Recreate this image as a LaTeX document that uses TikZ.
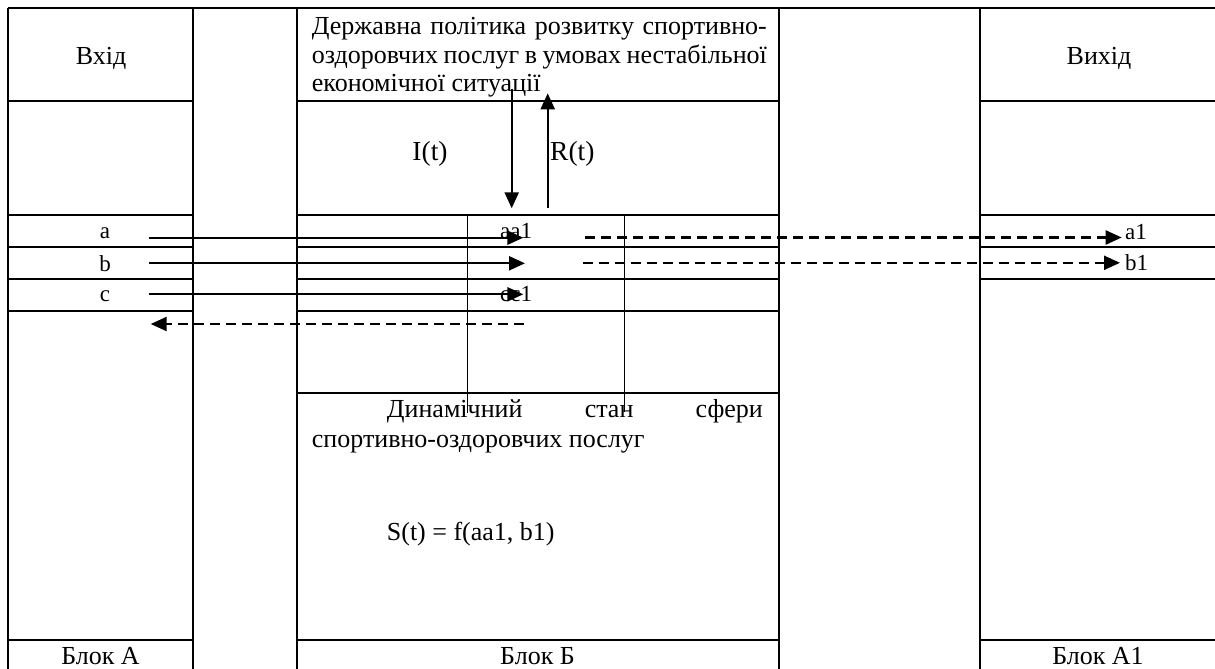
\documentclass[tikz,border=0pt]{standalone}
\usepackage{fontspec}
\setmainfont{Liberation Serif}
\usetikzlibrary{arrows.meta}

\begin{document}
\begin{tikzpicture}[x=1pt,y=-1pt,
  grid/.style={line width=2.3pt},
  thingrid/.style={line width=1.5pt},
  flow/.style={line width=2.2pt,-{Triangle[length=16pt,width=14pt]}},
  dflow/.style={flow,dash pattern=on 10pt off 6pt},
  lbl/.style={inner sep=0pt,anchor=base,font=\fontsize{26}{28.5}\selectfont},
  biglbl/.style={lbl,font=\fontsize{27.5}{30}\selectfont},
  smalllbl/.style={lbl,font=\fontsize{23}{26}\selectfont},
  para/.style={lbl,anchor=base west,align=justify},
]
\useasboundingbox (0,0) rectangle (1215,669);
\clip (0,0) rectangle (1215,669);

% table frame: five columns
\foreach \x in {8,193,297,779,980,1217}
  \draw[grid] (\x,8) -- (\x,672);
\draw[grid] (8,8) -- (1217,8);
\draw[grid] (8,672) -- (1217,672);

% row lines of block A
\foreach \y in {101,215,247,279,311,640}
  \draw[grid] (8,\y) -- (193,\y);
% row lines of block B
\foreach \y in {101,215,247,279,311,393,640}
  \draw[grid] (297,\y) -- (779,\y);
% row lines of block A1
\foreach \y in {101,215,247,279,640}
  \draw[grid] (980,\y) -- (1217,\y);

% inner dividers of block B
\draw[thingrid] (467.7,215) -- (467.7,413);
\draw[thingrid] (624.3,215) -- (624.3,412);

% headings
\node[lbl] (vhid) at (101,65) {Вхід};
\node[lbl] (vyhid) at (1099,65) {Вихід};
\node[para,text width=455pt] (policy) at (311.7,35)
  {Державна політика розвитку спортивно-\linebreak
   оздоровчих послуг в умовах нестабільної\linebreak
   економічної ситуації};

% control signals
\node[biglbl] (it) at (430,160) {I(t)};
\node[biglbl,anchor=base west] (rt) at (550,160) {R(t)};
\coordinate (iTop) at (511.7,89);
\coordinate (iBot) at (511.7,208.3);
\coordinate (rBot) at (547.7,208.3);
\coordinate (rTop) at (547.7,93.3);
\draw[flow] (iTop) -- (iBot);
\draw[flow] (rBot) -- (rTop);

% input row labels
\node[smalllbl] (la) at (105,238) {a};
\node[smalllbl] (lb) at (105,271.5) {b};
\node[smalllbl] (lc) at (105,301.7) {c};
\node[smalllbl,anchor=base west] (laa) at (500,238) {aa1};
\node[smalllbl,anchor=base west] (lcc) at (500,301.7) {cc1};
\node[smalllbl,anchor=base west] (la1) at (1125,239.5) {a1};
\node[smalllbl,anchor=base west] (lb1) at (1125,270.7) {b1};

% input flows
\coordinate (aS) at (149,237.7);   \coordinate (aE) at (523.3,237.7);
\coordinate (bS) at (149,263.3);   \coordinate (bE) at (525,263.3);
\coordinate (cS) at (149,294.3);   \coordinate (cE) at (523.3,294.3);
\draw[flow] (aS) -- (aE);
\draw[flow] (bS) -- (bE);
\draw[flow] (cS) -- (cE);

% feedback and output flows
\coordinate (fbS) at (523.5,324);  \coordinate (fbE) at (150.7,324);
\coordinate (oaS) at (585,237.5);  \coordinate (oaE) at (1121.7,237.5);
\coordinate (obS) at (583.3,262.8);\coordinate (obE) at (1120,262.8);
\draw[dflow] (fbS) -- (fbE);
\draw[dflow] (oaS) -- (oaE);
\draw[dflow] (obS) -- (obE);

% state of block B
\node[para,text width=451pt,font=\fontsize{26}{29.5}\selectfont] (state) at (311.7,417.5)
  {\hspace*{75pt}Динамічний стан сфери\linebreak
   спортивно-оздоровчих послуг};
\node[lbl,anchor=base west] (st) at (386.7,540) {S(t) = f(aa1, b1)};

% block captions
\node[lbl] (blA) at (100.5,664) {Блок А};
\node[lbl] (blB) at (537.5,664) {Блок Б};
\node[lbl] (blA1) at (1098,664) {Блок А1};
\end{tikzpicture}
\end{document}
